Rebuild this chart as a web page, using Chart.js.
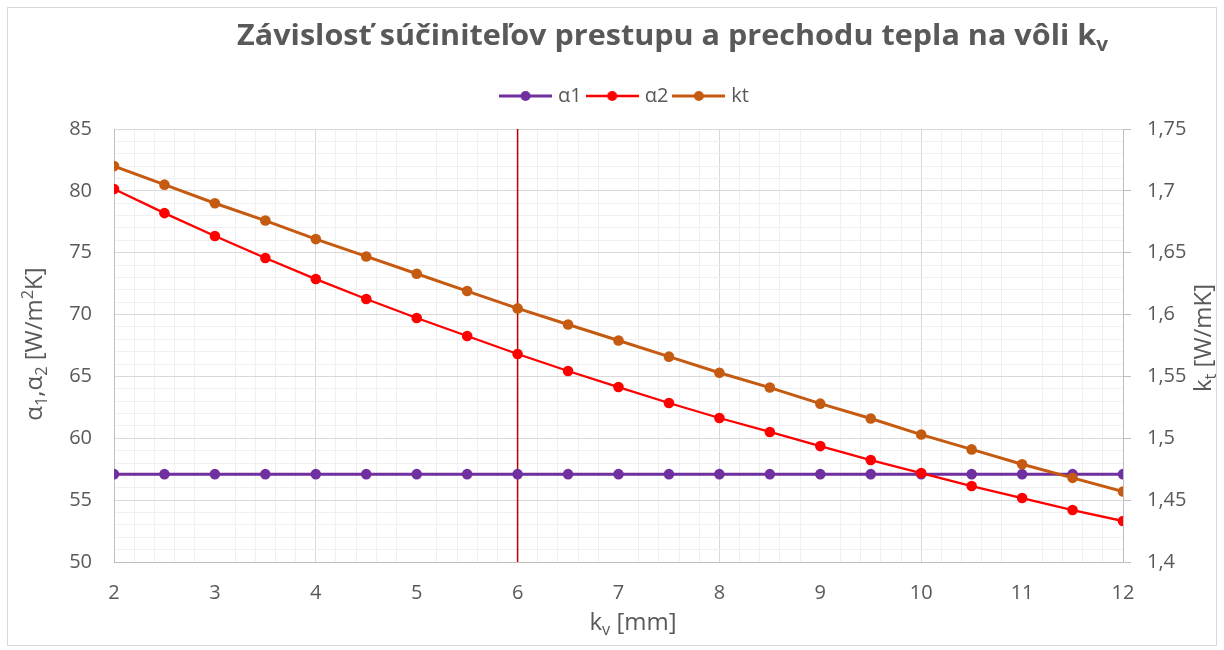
<!DOCTYPE html>
<html>
<head>
<meta charset="utf-8">
<script src="https://cdn.jsdelivr.net/npm/chart.js@4"></script>
<style>
  html, body { margin: 0; padding: 0; background: #fff; }
  #wrap { position: relative; width: 1224px; height: 650px; }
</style>
</head>
<body>
<div id="wrap"><canvas id="chart"></canvas></div>
<script>
// --- data ---
const kv = [2, 2.5, 3, 3.5, 4, 4.5, 5, 5.5, 6, 6.5, 7, 7.5, 8, 8.5, 9, 9.5, 10, 10.5, 11, 11.5, 12];
const alpha1 = [57.1, 57.1, 57.1, 57.1, 57.1, 57.1, 57.1, 57.1, 57.1, 57.1, 57.1,
                57.1, 57.1, 57.1, 57.1, 57.1, 57.1, 57.1, 57.1, 57.1, 57.1];
const alpha2 = [80.15, 78.2, 76.35, 74.57, 72.87, 71.26, 69.72, 68.27, 66.81, 65.44, 64.14,
                62.85, 61.64, 60.51, 59.37, 58.24, 57.19, 56.14, 55.17, 54.2, 53.31];
const kt = [1.720, 1.705, 1.690, 1.676, 1.661, 1.647, 1.633, 1.619, 1.605, 1.592, 1.579,
            1.566, 1.553, 1.541, 1.528, 1.516, 1.503, 1.491, 1.479, 1.468, 1.457];
const markerX = 6;
const xRange = [2, 12];
const alphaRange = [50, 85];
const ktRange = [1.4, 1.75];

const seriesNames = ["α1", "α2", "kt"];
const titleParts = [{ t: "Závislosť súčiniteľov prestupu a prechodu tepla na vôli k" }, { t: "v", sub: true }];
const xTitleParts = [{ t: "k" }, { t: "v", sub: true }, { t: " [mm]" }];
const yTitleParts = [{ t: "α" }, { t: "1", sub: true }, { t: ",α" }, { t: "2", sub: true }, { t: " [W/m" }, { t: "2", sup: true }, { t: "K]" }];
const y1TitleParts = [{ t: "k" }, { t: "t", sub: true }, { t: " [W/mK]" }];

const FONT = "'Open Sans', 'Noto Sans', sans-serif";
const TEXT = "#595959";
const colors = { a1: "#7030A0", a2: "#FF0000", kt: "#C55A11", marker: "#C00000" };

const pts = (ys) => ys.map((y, i) => ({ x: kv[i], y }));

// legend symbol: short line with a dot
function legendSymbol(color, lw) {
  const c = document.createElement("canvas");
  c.width = 53; c.height = 12;
  const g = c.getContext("2d");
  g.strokeStyle = color; g.lineWidth = lw;
  g.beginPath(); g.moveTo(0, 6); g.lineTo(53, 6); g.stroke();
  g.fillStyle = color;
  g.beginPath(); g.arc(26.5, 6, 5, 0, Math.PI * 2); g.fill();
  return c;
}

function drawRich(ctx, parts, size, weight) {
  let x = 0;
  parts.forEach((p) => {
    const s = p.sub || p.sup ? size * 0.68 : size;
    ctx.font = `${weight} ${s}px ${FONT}`;
    const dy = p.sub ? size * 0.22 : p.sup ? -size * 0.38 : 0;
    ctx.fillText(p.t, x, dy);
    x += ctx.measureText(p.t).width;
  });
  return x;
}

function richWidth(ctx, parts, size, weight) {
  let w = 0;
  parts.forEach((p) => {
    const s = p.sub || p.sup ? size * 0.68 : size;
    ctx.font = `${weight} ${s}px ${FONT}`;
    w += ctx.measureText(p.t).width;
  });
  return w;
}

const frameAndTitles = {
  id: "frameAndTitles",
  afterLayout(chart) {
    // reference legend sits a bit right of centre
    chart.legend.left += 14;
    chart.legend.right += 14;
  },
  beforeDraw(chart) {
    const ctx = chart.ctx;
    ctx.save();
    ctx.fillStyle = "#fff";
    ctx.fillRect(0, 0, chart.width, chart.height);
    ctx.strokeStyle = "#d9d9d9";
    ctx.lineWidth = 1;
    ctx.strokeRect(7.5, 7.5, 1209, 638);
    ctx.restore();
  },
  afterDraw(chart) {
    const ctx = chart.ctx;
    ctx.save();
    ctx.fillStyle = TEXT;
    ctx.textBaseline = "alphabetic";
    ctx.textAlign = "left";

    // chart title, squeezed to the reference width
    const tw = richWidth(ctx, titleParts, 29, "bold");
    ctx.save();
    ctx.translate(237, 45);
    ctx.scale(871 / tw, 1);
    drawRich(ctx, titleParts, 29, "bold");
    ctx.restore();

    // x axis title
    const xw = richWidth(ctx, xTitleParts, 24, "normal");
    ctx.save();
    ctx.translate(633 - xw / 2, 630);
    drawRich(ctx, xTitleParts, 24, "normal");
    ctx.restore();

    // left axis title
    const yw = richWidth(ctx, yTitleParts, 24, "normal");
    ctx.save();
    ctx.translate(42, 344 + yw / 2);
    ctx.rotate(-Math.PI / 2);
    drawRich(ctx, yTitleParts, 24, "normal");
    ctx.restore();

    // right axis title
    const y1w = richWidth(ctx, y1TitleParts, 24, "normal");
    ctx.save();
    ctx.translate(1211, 338 + y1w / 2);
    ctx.rotate(-Math.PI / 2);
    drawRich(ctx, y1TitleParts, 24, "normal");
    ctx.restore();

    ctx.restore();
  },
};

const legendHeight = {
  id: "legendHeight",
  beforeInit(chart) {
    const fit = chart.legend.fit;
    chart.legend.fit = function () {
      fit.call(this);
      this.height = 51;
    };
  },
};

const isInt = (v) => Math.abs(v - Math.round(v)) < 1e-6;

const lineDs = (label, data, color, width, axis, order) => ({
  label,
  data,
  yAxisID: axis,
  borderColor: color,
  backgroundColor: color,
  borderWidth: width,
  pointRadius: 5.3,
  pointBorderWidth: 0,
  pointBackgroundColor: color,
  tension: 0,
  order,
});

const ctx = document.getElementById("chart");
new Chart(ctx, {
  type: "line",
  data: {
    datasets: [
      lineDs(seriesNames[0], pts(alpha1), colors.a1, 3, "y", 3),
      lineDs(seriesNames[1], pts(alpha2), colors.a2, 2.3, "y", 2),
      lineDs(seriesNames[2], pts(kt), colors.kt, 3, "y1", 1),
      {
        label: "marker",
        data: [{ x: markerX, y: alphaRange[0] }, { x: markerX, y: alphaRange[1] }],
        yAxisID: "y",
        borderColor: colors.marker,
        borderWidth: 1.5,
        pointRadius: 0,
        order: 4,
      },
    ],
  },
  options: {
    responsive: true,
    maintainAspectRatio: false,
    animation: false,
    layout: { padding: { top: 78, left: 0, right: 0, bottom: 0 } },
    plugins: {
      tooltip: { enabled: false },
      legend: {
        position: "top",
        labels: {
          usePointStyle: true,
          pointStyleWidth: 45,
          padding: 8,
          color: TEXT,
          font: { family: FONT, size: 20 },
          filter: (item) => item.text !== "marker",
          sort: (a, b) => a.datasetIndex - b.datasetIndex,
          generateLabels(chart) {
            const items = Chart.defaults.plugins.legend.labels.generateLabels(chart);
            items.forEach((it) => {
              const ds = chart.data.datasets[it.datasetIndex];
              it.pointStyle = legendSymbol(ds.borderColor, ds.borderWidth);
            });
            return items;
          },
        },
      },
    },
    scales: {
      x: {
        type: "linear",
        min: xRange[0],
        max: xRange[1],
        afterFit: (s) => { s.height = 88; },
        border: { color: "#bfbfbf", width: 1 },
        grid: {
          drawTicks: false,
          lineWidth: 1,
          color: (c) => {
            const v = c.tick.value;
            if (isInt(v)) return Math.round(v) % 2 === 0 ? "#d9d9d9" : "rgba(0,0,0,0)";
            return "#f0f0f0";
          },
        },
        ticks: {
          stepSize: 0.2,
          autoSkip: false,
          maxRotation: 0,
          padding: 19,
          color: TEXT,
          font: { family: FONT, size: 20 },
          callback: (v) => (isInt(v) ? String(Math.round(v)) : ""),
        },
      },
      y: {
        position: "left",
        min: alphaRange[0],
        max: alphaRange[1],
        afterFit: (s) => { s.width = 114; },
        border: { color: "#bfbfbf", width: 1 },
        grid: {
          drawTicks: false,
          color: (c) => (Math.round(c.tick.value) % 5 === 0 ? "#d9d9d9" : "#f0f0f0"),
        },
        ticks: {
          stepSize: 1,
          autoSkip: false,
          padding: 22,
          color: TEXT,
          font: { family: FONT, size: 20 },
          callback: (v) => (Math.round(v) % 5 === 0 ? String(v) : ""),
        },
      },
      y1: {
        position: "right",
        min: ktRange[0],
        max: ktRange[1],
        afterFit: (s) => { s.width = 101; },
        border: { color: "#bfbfbf", width: 1 },
        grid: {
          drawOnChartArea: false,
          drawTicks: true,
          tickLength: 8,
          tickColor: "#bfbfbf",
        },
        ticks: {
          stepSize: 0.05,
          padding: 16,
          color: TEXT,
          font: { family: FONT, size: 20 },
          callback: (v) => String(Number(v.toFixed(2))).replace(".", ","),
        },
      },
    },
  },
  plugins: [legendHeight, frameAndTitles],
});
</script>
</body>
</html>
